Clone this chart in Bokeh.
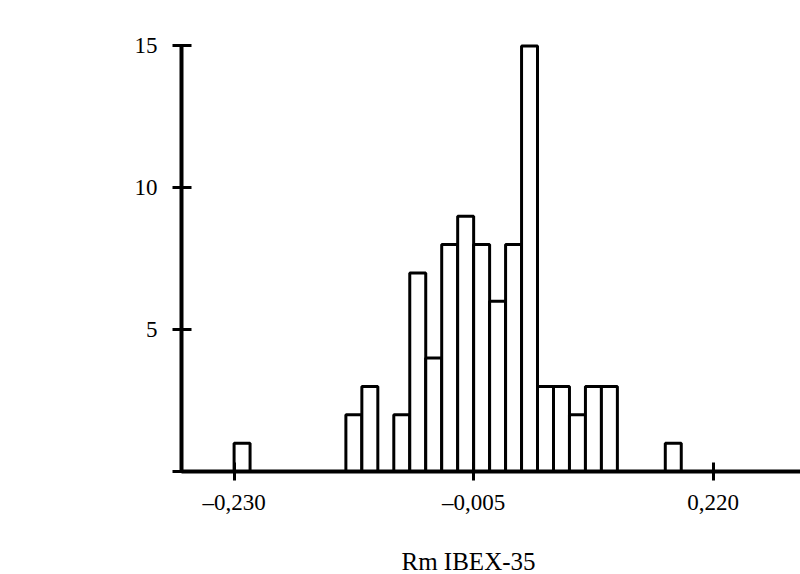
from bokeh.plotting import figure
from bokeh.models import Range1d, FixedTicker, Title
from bokeh.embed import file_html
from bokeh.resources import INLINE

# Histogram of Rm IBEX-35 (bin width 0.015)
bin_lefts = [-0.230, -0.215, -0.200, -0.185, -0.170, -0.155, -0.140,
             -0.125, -0.110, -0.095, -0.080, -0.065, -0.050, -0.035,
             -0.020, -0.005, 0.010, 0.025, 0.040, 0.055, 0.070,
             0.085, 0.100, 0.115, 0.130, 0.145, 0.160, 0.175]
bin_width = 0.015
counts = [1, 0, 0, 0, 0, 0, 0,
          2, 3, 0, 2, 7, 4, 8,
          9, 8, 6, 8, 15, 3, 3,
          2, 3, 3, 0, 0, 0, 1]

x_ticks = [-0.230, -0.005, 0.220]
x_tick_labels = ["\u20130,230", "\u20130,005", "0,220"]
y_ticks = [0, 5, 10, 15]
y_tick_labels = ["", "5", "10", "15"]
x_label = "Rm IBEX-35"

FONT = "Liberation Serif"

p = figure(width=800, height=574,
           x_range=Range1d(-0.2794, 0.302), y_range=Range1d(0, 15.51),
           min_border_left=181, min_border_right=0,
           min_border_top=31, min_border_bottom=103,
           output_backend="svg", toolbar_location=None)

p.grid.visible = False
p.outline_line_color = None
p.background_fill_color = "white"
p.border_fill_color = "white"

lefts = [l for l, c in zip(bin_lefts, counts) if c > 0]
rights = [l + bin_width for l, c in zip(bin_lefts, counts) if c > 0]
tops = [c for c in counts if c > 0]

p.quad(left=lefts, right=rights, bottom=0, top=tops,
       fill_color="white", line_color="black", line_width=3)

# x axis
xa = p.xaxis[0]
xa.ticker = FixedTicker(ticks=x_ticks)
xa.major_label_overrides = {t: s for t, s in zip(x_ticks, x_tick_labels)}
xa.axis_line_width = 4
xa.axis_line_color = "black"
xa.major_tick_line_width = 3
xa.major_tick_in = 9
xa.major_tick_out = 9
xa.minor_tick_line_color = None
xa.major_label_text_font = FONT
xa.major_label_text_font_size = "23px"
xa.major_label_text_color = "black"
xa.major_label_standoff = 9
# blank spacer label to push the title down
xa.axis_label = " "
xa.axis_label_text_font_size = "1px"
xa.axis_label_standoff = 24

# y axis
ya = p.yaxis[0]
ya.ticker = FixedTicker(ticks=y_ticks)
ya.major_label_overrides = {t: s for t, s in zip(y_ticks, y_tick_labels)}
ya.bounds = (0, 15)
ya.axis_line_width = 4
ya.axis_line_color = "black"
ya.major_tick_line_width = 3
ya.major_tick_in = 10
ya.major_tick_out = 9
ya.minor_tick_line_color = None
ya.major_label_text_font = FONT
ya.major_label_text_font_size = "23px"
ya.major_label_text_color = "black"
ya.major_label_standoff = 15
ya.major_label_orientation = "horizontal"

t = Title(text=x_label, align="left", offset=220, standoff=0,
          vertical_align="bottom",
          text_font=FONT, text_font_size="25px", text_font_style="normal",
          text_color="black")
p.add_layout(t, "below")

open("out.html", "w").write(file_html(p, INLINE))
